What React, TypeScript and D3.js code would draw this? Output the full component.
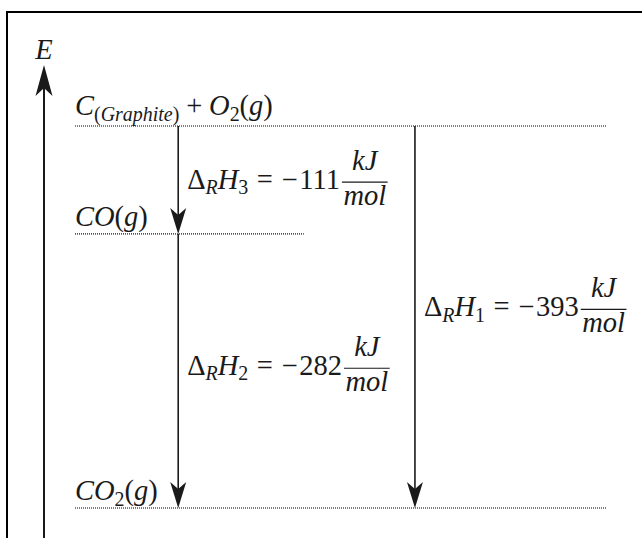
import { useEffect, useRef } from "react";
import * as d3 from "d3";

// energy levels (kJ/mol, relative to graphite + O2)
const levelNames = ["C_{(Graphite)}+O_2(g)", "CO(g)", "CO_2(g)"];
const levelEnergies = [0, -111, -393];

// reaction steps: from level -> to level
const stepFrom = [0, 1, 0];
const stepTo = [1, 2, 2];
const stepLabels = ["Δ_RH_3=−111", "Δ_RH_2=−282", "Δ_RH_1=−393"];
const unitNum = "kJ";
const unitDen = "mol";
const axisLabel = "E";

// layout
const W = 642;
const H = 538;
const FS = 28.5;
const FONT = "'Liberation Serif', 'DejaVu Serif', serif";
const INK = "#1a1a1a";
const levelEnds = [1, 0.43, 1];
const stepCols = [0.194, 0.194, 0.639];
const stepLabelAt = [0.52, 0.49, 0.48];

type Piece = { t: string; it: boolean; sub: boolean; gapL: number; gapR: number };

function parse(s: string): Piece[] {
  const out: Piece[] = [];
  const push = (ch: string, sub: boolean) => {
    const it = /[A-Za-z]/.test(ch);
    const gap = ch === "=" ? 0.3 : ch === "+" ? 0.24 : 0;
    const last = out[out.length - 1];
    if (!gap && ch !== "−" && last && last.it === it && last.sub === sub && last.gapR === 0) last.t += ch;
    else out.push({ t: ch, it, sub, gapL: gap, gapR: ch === "−" ? 0.06 : gap });
  };
  for (let i = 0; i < s.length; i++) {
    const c = s[i];
    if (c === "_") {
      if (s[i + 1] === "{") {
        const j = s.indexOf("}", i);
        for (const ch of s.slice(i + 2, j)) push(ch, true);
        i = j;
      } else {
        push(s[i + 1], true);
        i++;
      }
    } else push(c, false);
  }
  return out;
}

function drawMath(g: any, x: number, y: number, s: string) {
  let cx = x;
  for (const p of parse(s)) {
    cx += p.gapL * FS;
    const t = g
      .append("text")
      .attr("x", cx)
      .attr("y", y + (p.sub ? FS * 0.2 : 0))
      .attr("font-size", p.sub ? FS * 0.7 : FS)
      .attr("font-style", p.it ? "italic" : "normal")
      .text(p.t);
    cx += (t.node() as SVGTextElement).getComputedTextLength() + p.gapR * FS;
  }
  return cx;
}

function drawFrac(g: any, x: number, y: number, num: string, den: string) {
  const barY = y - FS * 0.23;
  const n = g.append("text").attr("font-style", "italic").attr("font-size", FS).attr("text-anchor", "middle").text(num);
  const d = g.append("text").attr("font-style", "italic").attr("font-size", FS).attr("text-anchor", "middle").text(den);
  const w =
    Math.max(
      (n.node() as SVGTextElement).getComputedTextLength(),
      (d.node() as SVGTextElement).getComputedTextLength()
    ) + 3;
  n.attr("x", x + w / 2).attr("y", barY - FS * 0.42);
  d.attr("x", x + w / 2).attr("y", barY + FS * 0.8);
  g.append("line")
    .attr("x1", x)
    .attr("x2", x + w)
    .attr("y1", barY)
    .attr("y2", barY)
    .attr("stroke", INK)
    .attr("stroke-width", 1.1);
}

export default function App() {
  const ref = useRef<SVGSVGElement | null>(null);

  useEffect(() => {
    if (!ref.current) return;
    const svg = d3.select(ref.current);
    svg.selectAll("*").remove();

    const y = d3.scaleLinear().domain([0, -393]).range([126, 508]);
    const x = d3.scaleLinear().domain([0, 1]).range([75, 607]);

    const root = svg.append("g").attr("font-family", FONT).attr("fill", INK);

    // frame
    root
      .append("rect")
      .attr("x", 7)
      .attr("y", 12)
      .attr("width", 700)
      .attr("height", 600)
      .attr("fill", "none")
      .attr("stroke", "#000")
      .attr("stroke-width", 2);

    // energy axis
    const ax = 44;
    const tip = 65;
    root
      .append("line")
      .attr("x1", ax)
      .attr("x2", ax)
      .attr("y1", H + 10)
      .attr("y2", tip + 20)
      .attr("stroke", INK)
      .attr("stroke-width", 2);
    root
      .append("path")
      .attr("d", `M${ax},${tip} L${ax + 8.5},${tip + 31} L${ax},${tip + 23} L${ax - 8.5},${tip + 31} Z`)
      .attr("fill", INK);
    root
      .append("text")
      .attr("x", ax)
      .attr("y", 59)
      .attr("text-anchor", "middle")
      .attr("font-style", "italic")
      .attr("font-size", FS)
      .text(axisLabel);

    // levels
    levelNames.forEach((name, i) => {
      const ly = y(levelEnergies[i]);
      root
        .append("line")
        .attr("x1", x(0))
        .attr("x2", x(levelEnds[i]))
        .attr("y1", ly)
        .attr("y2", ly)
        .attr("stroke", "#555")
        .attr("stroke-width", 1.6)
        .attr("stroke-dasharray", "1 1");
      drawMath(root, x(0), ly - (i === 0 ? 11 : 8), name);
    });

    // steps
    stepLabels.forEach((lab, i) => {
      const cx = x(stepCols[i]);
      const y0 = y(levelEnergies[stepFrom[i]]);
      const y1 = y(levelEnergies[stepTo[i]]);
      root
        .append("line")
        .attr("x1", cx)
        .attr("x2", cx)
        .attr("y1", y0)
        .attr("y2", y1 - 18)
        .attr("stroke", INK)
        .attr("stroke-width", 1.6);
      root
        .append("path")
        .attr("d", `M${cx},${y1} L${cx + 8},${y1 - 26} L${cx},${y1 - 19} L${cx - 8},${y1 - 26} Z`)
        .attr("fill", INK);
      const barY = y0 + (y1 - y0) * stepLabelAt[i];
      const base = barY + FS * 0.23;
      const endX = drawMath(root, cx + 9, base, lab);
      drawFrac(root, endX + 2, base, unitNum, unitDen);
    });
  }, []);

  return (
    <svg
      ref={ref}
      width={W}
      height={H}
      viewBox={`0 0 ${W} ${H}`}
      style={{ position: "absolute", left: 0, top: 0, background: "#fff" }}
    ></svg>
  );
}
